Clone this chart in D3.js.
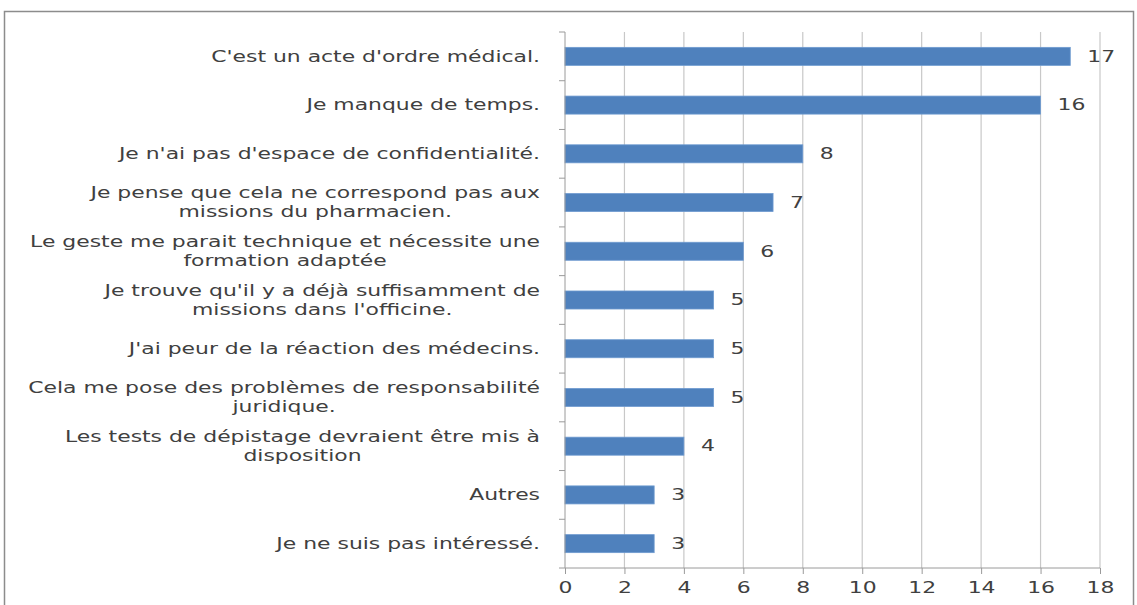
<!DOCTYPE html>
<html>
<head>
<meta charset="utf-8">
<script src="https://cdn.jsdelivr.net/npm/d3@7"></script>
<style>
  body { margin: 0; background: #fff; }
  svg text { font-family: "DejaVu Sans", sans-serif; fill: #404040; }
</style>
</head>
<body>
<div id="chart"></div>
<script>
// data
var labels = [
  ["C'est un acte d'ordre médical."],
  ["Je manque de temps."],
  ["Je n'ai pas d'espace de confidentialité."],
  ["Je pense que cela ne correspond pas aux", "missions du pharmacien."],
  ["Le geste me parait technique et nécessite une", "formation adaptée"],
  ["Je trouve qu'il y a déjà suffisamment de", "missions dans l'officine."],
  ["J'ai peur de la réaction des médecins."],
  ["Cela me pose des problèmes de responsabilité", "juridique."],
  ["Les tests de dépistage devraient être mis à", "disposition"],
  ["Autres"],
  ["Je ne suis pas intéressé."]
];
var values = [17, 16, 8, 7, 6, 5, 5, 5, 4, 3, 3];
var xTicks = [0, 2, 4, 6, 8, 10, 12, 14, 16, 18];

var width = 1137, height = 605;
var pLeft = 565, pRight = 1100, pTop = 32, pBottom = 568;
var stretch = 1.46; // the picture's text is drawn wide

var svg = d3.select("#chart").append("svg")
  .attr("width", width)
  .attr("height", height);

// outer frame
svg.append("rect")
  .attr("x", 4.5).attr("y", 11.5)
  .attr("width", 1129).attr("height", 600)
  .attr("fill", "none")
  .attr("stroke", "#8c8c8c")
  .attr("stroke-width", 1.5);

var x = d3.scaleLinear().domain([0, 18]).range([pLeft, pRight]);
var y = d3.scaleBand().domain(d3.range(values.length)).range([pTop, pBottom]).paddingInner(0.63).paddingOuter(0.315);

// gridlines
svg.append("g")
  .selectAll("line")
  .data(xTicks.slice(1))
  .enter().append("line")
  .attr("x1", function(d){ return x(d); })
  .attr("x2", function(d){ return x(d); })
  .attr("y1", pTop).attr("y2", pBottom)
  .attr("stroke", "#c8c8c8")
  .attr("stroke-width", 1.2);

// bars
svg.append("g")
  .selectAll("rect")
  .data(values)
  .enter().append("rect")
  .attr("x", x(0))
  .attr("y", function(d, i){ return y(i); })
  .attr("width", function(d){ return x(d) - x(0); })
  .attr("height", y.bandwidth())
  .attr("fill", "#4f81bd")
  .attr("stroke", "#6f9bd0")
  .attr("stroke-width", 0.8);

// value labels
svg.append("g")
  .selectAll("text")
  .data(values)
  .enter().append("text")
  .attr("transform", function(d, i){
    return "translate(" + (x(d) + 17) + "," + (y(i) + y.bandwidth() / 2) + ") scale(" + stretch + ",1)";
  })
  .attr("dy", "0.35em")
  .style("font-size", "15px")
  .text(function(d){ return d; });

// x axis
var xAxis = d3.axisBottom(x).tickValues(xTicks).tickSize(6).tickPadding(8);
var gx = svg.append("g")
  .attr("transform", "translate(0," + pBottom + ")")
  .call(xAxis);
gx.select(".domain").attr("stroke", "#9a9a9a").attr("d", "M" + (pLeft - 6) + ",0H" + pRight);
gx.selectAll(".tick line").attr("stroke", "#9a9a9a");
gx.selectAll("text")
  .style("font-size", "15px")
  .attr("fill", "#404040")
  .attr("transform", "scale(" + stretch + ",1)");

// y axis line + band ticks
svg.append("line")
  .attr("x1", pLeft).attr("x2", pLeft)
  .attr("y1", pTop).attr("y2", pBottom)
  .attr("stroke", "#9a9a9a");
var step = (pBottom - pTop) / values.length;
svg.append("g")
  .selectAll("line")
  .data(d3.range(values.length))
  .enter().append("line")
  .attr("x1", pLeft - 6).attr("x2", pLeft)
  .attr("y1", function(d){ return pTop + d * step; })
  .attr("y2", function(d){ return pTop + d * step; })
  .attr("stroke", "#9a9a9a");

// category labels: right-aligned blocks, lines centred within a block
var cat = svg.append("g")
  .selectAll("text")
  .data(labels)
  .enter().append("text")
  .attr("text-anchor", "middle")
  .style("font-size", "15px")
  .attr("transform", function(d, i){
    return "translate(540," + (y(i) + y.bandwidth() / 2) + ") scale(" + stretch + ",1)";
  });

cat.each(function(d){
  var t = d3.select(this);
  var n = d.length;
  var spans = [];
  d.forEach(function(line, k){
    spans.push(t.append("tspan")
      .attr("dy", k === 0 ? (0.35 - (n - 1) * 0.63) + "em" : "1.26em")
      .text(line));
  });
  var w = d3.max(spans, function(s){ return s.node().getComputedTextLength(); });
  spans.forEach(function(s){ s.attr("x", -w / 2); });
});
</script>
</body>
</html>
